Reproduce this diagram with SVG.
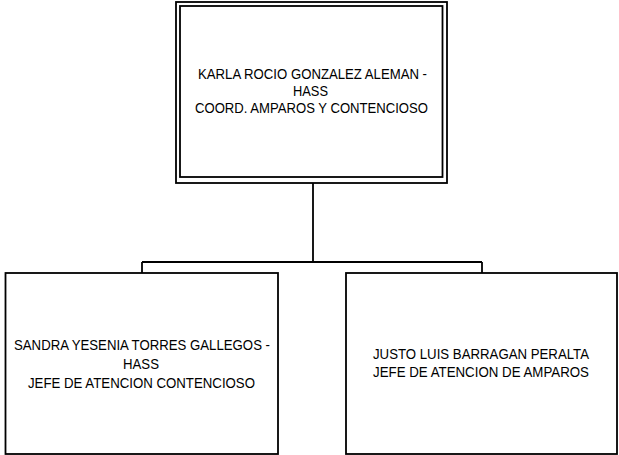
<svg xmlns="http://www.w3.org/2000/svg" width="619" height="455" viewBox="0 0 619 455">
<style>
.box{fill:#fff;stroke:#000;stroke-width:1.8}
.in{fill:none;stroke:#000;stroke-width:1.8}
.t{font-family:"Liberation Sans",Arial,sans-serif;font-size:14.5px;fill:#000}
.c{fill:none;stroke:#000;stroke-width:1.8}
</style>
<rect width="619" height="455" fill="#fff"/>
<g id="connectors">
<path class="c" d="M313,183 V262 M142,262 H482 M142,262 V273 M482,262 V273"/>
</g>
<g id="node-karla">
<rect class="box" x="176" y="2" width="271" height="181"/>
<rect class="in" x="180" y="6" width="262.5" height="171"/>
<text class="t" x="198" y="79" textLength="229" lengthAdjust="spacingAndGlyphs">KARLA ROCIO GONZALEZ ALEMAN -</text>
<text class="t" x="293" y="96" textLength="35" lengthAdjust="spacingAndGlyphs">HASS</text>
<text class="t" x="195" y="113" textLength="233" lengthAdjust="spacingAndGlyphs">COORD. AMPAROS Y CONTENCIOSO</text>
</g>
<g id="node-sandra">
<rect class="box" x="5.5" y="273" width="272.5" height="181"/>
<text class="t" x="14" y="349.5" textLength="256" lengthAdjust="spacingAndGlyphs">SANDRA YESENIA TORRES GALLEGOS -</text>
<text class="t" x="123" y="368.5" textLength="36" lengthAdjust="spacingAndGlyphs">HASS</text>
<text class="t" x="28" y="387.5" textLength="227" lengthAdjust="spacingAndGlyphs">JEFE DE ATENCION CONTENCIOSO</text>
</g>
<g id="node-justo">
<rect class="box" x="346" y="273" width="271" height="181"/>
<text class="t" x="373" y="358.5" textLength="216" lengthAdjust="spacingAndGlyphs">JUSTO LUIS BARRAGAN PERALTA</text>
<text class="t" x="373" y="376.5" textLength="216" lengthAdjust="spacingAndGlyphs">JEFE DE ATENCION DE AMPAROS</text>
</g>
</svg>
